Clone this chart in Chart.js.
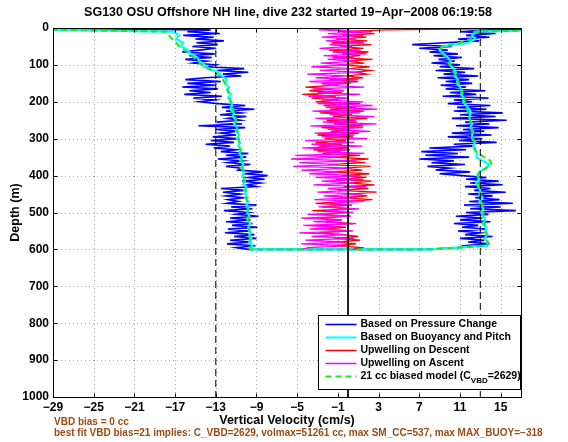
<!DOCTYPE html>
<html>
<head>
<meta charset="utf-8">
<script src="https://cdn.jsdelivr.net/npm/chart.js@4.4.1/dist/chart.umd.min.js"></script>
<style>
  html, body { margin: 0; padding: 0; background: #fff; }
  #wrap { position: relative; width: 568px; height: 442px; font-family: "Liberation Sans", Arial, sans-serif; }
  #chart { position: absolute; left: 0; top: 0; }
  .title { position: absolute; left: 0; width: 576px; top: 5px; text-align: center; font-weight: bold; font-size: 12.5px; color: #000; }
  .note { position: absolute; left: 54px; color: #9a4a14; font-weight: bold; font-size: 10px; white-space: nowrap; }
</style>
</head>
<body>
<div id="wrap">
  <canvas id="chart" width="568" height="442"></canvas>
  <div class="title">SG130 OSU Offshore NH line, dive 232 started 19−Apr−2008 06:19:58</div>
  <div class="note" style="top:416px">VBD bias = 0 cc</div>
  <div class="note" style="top:427px">best fit VBD bias=21 implies: C_VBD=2629, volmax=51261 cc, max SM_CC=537, max MAX_BUOY=−318</div>
</div>
<script>
// axis ticks
const xTicks = [-29, -25, -21, -17, -13, -9, -5, -1, 3, 7, 11, 15];
const yTicks = [0, 100, 200, 300, 400, 500, 600, 700, 800, 900, 1000];

// depth sampling (m) of the profiles below, index i -> depth i*step
const fineStep = 5;
const coarseStep = 10;

// vertical velocity (cm/s), descent, from pressure change (0..600 m, 5 m)
const blueDown = [
  -40, -13.5, -15.8, -12.6, -16.2, -13.2, -15.0, -12.2, -14.9, -12.8,
  -15.3, -13.0, -14.6, -16.3, -13.1, -15.6, -13.4, -16.0, -13.9, -15.2,
  -13.0, -13.8, -10.2, -12.9, -9.8, -12.3, -10.5, -14.1, -16.0, -12.5,
  -15.8, -13.0, -16.3, -12.8, -15.6, -13.5, -16.1, -12.4, -15.2, -13.1,
  -14.6, -12.8, -10.1, -12.4, -9.2, -12.0, -10.5, -12.6, -10.0, -11.8,
  -10.6, -12.9, -10.4, -14.7, -10.1, -13.0, -10.8, -12.5, -11.0, -13.3,
  -10.7, -13.5, -11.2, -14.0, -11.6, -13.2, -11.0, -12.5, -9.8, -12.0,
  -10.0, -12.8, -10.4, -11.8, -9.6, -12.0, -10.5, -10.8, -8.4, -10.2,
  -7.9, -9.8, -8.2, -10.4, -8.6, -10.0, -9.0, -12.5, -10.2, -12.3,
  -10.6, -12.0, -10.3, -11.8, -10.8, -11.9, -9.0, -11.5, -9.4, -12.2,
  -9.8, -11.0, -8.8, -11.6, -9.6, -12.0, -9.4, -11.4, -8.9, -11.8,
  -9.7, -12.1, -9.2, -11.2, -9.0, -11.6, -9.5, -11.9, -9.1, -11.0,
  -9.8
];
// ascent, from pressure change (0..600 m, 5 m)
const blueUp = [
  30, 13.8, 11.0, 14.5, 11.6, 13.9, 10.8, 12.9, 9.5, 6.3,
  10.2, 7.0, 9.8, 8.0, 10.8, 8.4, 11.2, 8.9, 10.5, 8.2,
  11.0, 9.0, 12.4, 8.6, 11.5, 9.4, 12.8, 8.8, 11.9, 9.6,
  12.2, 9.1, 11.6, 9.6, 13.5, 10.0, 12.6, 9.3, 13.8, 10.4,
  12.2, 9.8, 14.0, 10.7, 13.6, 10.4, 15.2, 11.0, 14.5, 10.2,
  15.6, 11.5, 13.9, 10.6, 14.8, 11.3, 13.4, 10.2, 14.1, 9.8,
  13.2, 10.9, 14.6, 10.4, 12.4, 8.0, 11.6, 7.2, 10.8, 7.6,
  11.9, 7.0, 10.4, 8.2, 11.5, 7.8, 10.0, 8.6, 12.0, 9.0,
  11.2, 13.6, 11.6, 14.8, 12.0, 15.2, 11.5, 14.0, 12.4, 15.5,
  11.8, 14.2, 12.5, 14.9, 11.9, 16.2, 11.4, 15.0, 12.0, 16.5,
  11.6, 13.8, 10.6, 13.2, 11.0, 14.0, 10.4, 12.8, 11.2, 13.6,
  10.8, 13.0, 11.5, 14.2, 11.0, 13.4, 11.8, 13.9, 11.3, 11.0,
  7.5
];

// from buoyancy and pitch (0..600 m, 10 m)
const cyanDown = [
  -40, -17.2, -16.6, -16.9, -16.2, -16.4, -15.7, -15.5, -14.8, -14.6,
  -14.1, -13.7, -12.7, -12.4, -11.9, -12.1, -11.7, -11.9, -11.5, -11.8,
  -11.5, -11.4, -11.6, -11.2, -11.3, -11.0, -11.2, -10.9, -11.0, -10.7,
  -10.9, -10.6, -10.8, -10.5, -10.7, -10.4, -10.6, -10.3, -10.5, -10.2,
  -10.4, -10.1, -10.3, -10.0, -10.2, -10.0, -10.1, -9.8, -10.0, -9.8,
  -9.9, -9.7, -9.9, -9.6, -9.8, -9.6, -9.7, -9.5, -9.7, -9.4,
  -9.6
];
const cyanUp = [
  30, 12.6, 12.2, 12.5, 11.8, 9.3, 9.0, 9.4, 9.8, 10.1,
  10.0, 10.4, 10.6, 10.5, 10.8, 10.7, 11.0, 11.2, 11.1, 11.4,
  11.3, 11.6, 11.9, 12.1, 11.9, 12.0, 12.2, 12.0, 12.3, 12.2,
  12.2, 12.5, 12.3, 12.4, 12.7, 12.6, 13.2, 13.9, 13.5, 12.9,
  12.7, 12.9, 12.6, 12.8, 13.0, 12.9, 13.2, 12.9, 13.1, 13.3,
  13.1, 13.3, 13.5, 13.2, 13.6, 13.5, 13.7, 13.4, 13.8, 13.6,
  8.0
];

// 21 cc biased model (0..600 m, 10 m)
const greenDown = [
  -40, -17.8, -17.6, -17.3, -16.9, -16.6, -16.1, -15.6, -15.2, -14.8,
  -14.4, -13.8, -13.1, -12.6, -12.3, -12.1, -11.9, -11.8, -11.7, -11.6,
  -11.5, -11.4, -11.3, -11.2, -11.1, -11.0, -10.95, -10.9, -10.85, -10.8,
  -10.75, -10.7, -10.65, -10.6, -10.55, -10.5, -10.45, -10.4, -10.35, -10.3,
  -10.25, -10.2, -10.15, -10.1, -10.05, -10.0, -9.98, -9.95, -9.9, -9.88,
  -9.85, -9.82, -9.8, -9.78, -9.75, -9.72, -9.7, -9.68, -9.65, -9.62,
  -9.6
];
const greenUp = [
  30, 12.4, 12.3, 12.0, 11.0, 9.2, 9.1, 9.3, 9.6, 9.8,
  10.0, 10.2, 10.4, 10.6, 10.7, 10.9, 11.0, 11.2, 11.3, 11.4,
  11.5, 11.6, 11.7, 11.8, 11.9, 12.0, 12.1, 12.1, 12.2, 12.3,
  12.3, 12.4, 12.4, 12.5, 12.8, 13.4, 14.0, 14.1, 13.6, 12.9,
  12.8, 12.8, 12.9, 12.9, 13.0, 13.0, 13.1, 13.1, 13.2, 13.2,
  13.3, 13.3, 13.4, 13.4, 13.5, 13.5, 13.6, 13.6, 13.7, 13.7,
  8.0
];

// upwelling on descent (0..600 m, 5 m)
const redDown = [
  20, 3.8, -1.0, 2.6, -0.5, 1.8, -1.2, 1.9, -1.6, 2.3,
  -0.8, 1.5, -1.9, 2.0, -0.6, 1.2, -1.5, 2.4, -0.4, 1.6,
  -1.0, 2.1, 0.3, 2.2, 0.6, 1.9, -0.2, 1.5, -1.8, 1.0,
  -2.6, -1.0, -4.2, -1.5, -3.8, -0.6, -4.5, -1.2, -3.6, -0.9,
  -3.2, 1.2, -2.4, 0.8, -1.8, 1.6, -2.8, 0.4, -1.5, 1.9,
  -2.1, 0.9, -1.4, 1.5, -2.6, 0.2, -1.7, 1.1, -3.0, 0.5,
  -2.3, -0.2, -3.2, -0.6, -2.9, 0.1, -3.4, -0.8, -2.5, 1.2,
  -1.6, 2.0, -0.8, 1.7, -2.0, 2.2, -0.4, 1.4, -1.8, 2.1,
  -0.6, 1.8, -1.2, 2.3, 0.1, 2.6, -0.4, 2.0, -1.0, 2.8,
  0.2, 1.9, -0.8, 2.4, -0.3, -3.2, 0.4, -2.5, 0.6, -3.5,
  -0.4, -2.8, 0.2, -3.0, -0.6, -2.2, 0.5, -3.3, -0.2, -2.6,
  0.3, -2.9, -0.5, 1.0, -1.3, 1.2, -1.0, 0.8, -1.5, 1.3,
  0.5
];

// upwelling on ascent (0..600 m, 5 m)
const magentaUp = [
  1.0, -2.9, 2.4, -2.0, 1.5, -2.6, 0.8, -2.2, 1.6, -1.8,
  0.4, -2.8, 1.2, -1.5, 1.8, -2.4, 0.6, -2.0, 1.0, -2.7,
  0.2, -3.6, 0.5, -2.8, 1.4, -4.0, -0.2, -3.2, 1.0, -3.8,
  0.3, -2.5, 1.6, -3.5, -0.4, -3.0, 1.2, -3.9, 0.1, -2.6,
  1.5, -3.0, 2.4, -2.2, 2.9, -3.5, 1.2, -1.8, 2.6, -3.2,
  0.8, -2.5, 2.8, -3.7, 1.5, -2.0, 2.2, -3.3, 0.6, -2.6,
  1.9, -4.2, 0.6, -3.6, 1.4, -4.5, 0.2, -3.0, 1.6, -5.2,
  -0.5, -5.6, 0.8, -4.8, -1.0, -5.4, 0.4, -4.6, -0.8, -3.8,
  1.2, -3.2, 1.5, -2.6, 0.6, -3.4, 1.8, -2.0, 0.2, -3.0,
  1.3, -2.4, 0.8, -3.3, 1.6, -1.8, 0.4, -2.9, 1.1, -2.2,
  0.5, -4.0, 0.3, -4.6, -0.6, -3.4, 0.8, -4.4, -0.8, -3.8,
  0.5, -4.8, -0.2, -3.6, 0.6, -4.2, -0.4, -4.6, 0.2, -3.9,
  -4.5
];

// reference velocities drawn as full-depth vertical lines
const limitLines = [-13, 13];
const zeroLine = [0];

const FONT = '"Liberation Sans", Arial, sans-serif';

function profile(vals, step) {
    return vals.map((v, i) => ({ x: v, y: i * step }));
}

// descent then ascent, in time order
function dive(down, up, step) {
    return profile(down, step).concat(profile(up, step).reverse());
}

function vline(x) {
    return [{ x: x, y: 0 }, { x: x, y: 1000 }];
}

const lineBase = { showLine: true, pointRadius: 0, borderJoinStyle: 'miter', fill: false, tension: 0 };

const datasets = [
    { ...lineBase, label: 'Based on Pressure Change', data: dive(blueDown, blueUp, fineStep),
      borderColor: '#0000ff', borderWidth: 1.6, order: 8 },
    { ...lineBase, label: 'Based on Buoyancy and Pitch', data: dive(cyanDown, cyanUp, coarseStep),
      borderColor: '#00ffff', borderWidth: 2.2, order: 7 },
    { ...lineBase, label: 'Upwelling on Descent', data: profile(redDown, fineStep),
      borderColor: '#ff0000', borderWidth: 1.3, order: 6 },
    { ...lineBase, label: 'Upwelling on Ascent', data: profile(magentaUp, fineStep).reverse(),
      borderColor: '#ff00ff', borderWidth: 1.3, order: 5 },
    { ...lineBase, label: '21 cc biased model (C_{VBD}=2629)', data: dive(greenDown, greenUp, coarseStep),
      borderColor: '#22e622', borderWidth: 2, borderDash: [6, 4], order: 4 }
];
limitLines.forEach(v => datasets.push({ ...lineBase, data: vline(v), borderColor: '#000', borderWidth: 1, borderDash: [7, 4], order: 2 }));
zeroLine.forEach(v => datasets.push({ ...lineBase, data: vline(v), borderColor: '#000', borderWidth: 1, order: 1 }));

// MATLAB-ish frame: dotted grid, box, inward ticks, legend inside the axes
const matlabAxes = {
    id: 'matlabAxes',
    beforeDatasetsDraw(chart) {
        const { ctx, chartArea: a, scales: { x, y } } = chart;
        ctx.save();
        ctx.strokeStyle = '#a8a8a8';
        ctx.lineWidth = 1;
        ctx.setLineDash([1, 3]);
        xTicks.forEach(v => {
            const px = Math.round(x.getPixelForValue(v)) + 0.5;
            ctx.beginPath(); ctx.moveTo(px, a.top); ctx.lineTo(px, a.bottom); ctx.stroke();
        });
        yTicks.forEach(v => {
            const py = Math.round(y.getPixelForValue(v)) + 0.5;
            ctx.beginPath(); ctx.moveTo(a.left, py); ctx.lineTo(a.right, py); ctx.stroke();
        });
        ctx.restore();
    },
    afterDatasetsDraw(chart) {
        const { ctx, chartArea: a, scales: { x, y } } = chart;
        ctx.save();
        ctx.strokeStyle = '#000';
        ctx.lineWidth = 1;
        ctx.setLineDash([]);
        const L = Math.round(a.left) + 0.5, R = Math.round(a.right) + 0.5;
        const T = Math.round(a.top) + 0.5, B = Math.round(a.bottom) + 0.5;
        ctx.strokeRect(L, T, R - L, B - T);
        const tk = 4;
        ctx.beginPath();
        xTicks.forEach(v => {
            const px = Math.round(x.getPixelForValue(v)) + 0.5;
            ctx.moveTo(px, B); ctx.lineTo(px, B - tk);
            ctx.moveTo(px, T); ctx.lineTo(px, T + tk);
        });
        yTicks.forEach(v => {
            const py = Math.round(y.getPixelForValue(v)) + 0.5;
            ctx.moveTo(L, py); ctx.lineTo(L + tk, py);
            ctx.moveTo(R, py); ctx.lineTo(R - tk, py);
        });
        ctx.stroke();

        // legend
        const items = chart.data.datasets.filter(d => d.label);
        const bx = 318.5, by = 315.5, bw = 202, bh = 74;
        ctx.fillStyle = '#fff';
        ctx.fillRect(bx, by, bw, bh);
        ctx.strokeStyle = '#000';
        ctx.strokeRect(bx, by, bw, bh);
        const fs = 10.5;
        ctx.textBaseline = 'middle';
        items.forEach((d, i) => {
            const ly = by + 9 + i * 13;
            ctx.strokeStyle = d.borderColor;
            ctx.lineWidth = Math.max(1.5, Math.min(2, d.borderWidth));
            ctx.setLineDash(d.borderDash || []);
            ctx.beginPath(); ctx.moveTo(bx + 7, ly); ctx.lineTo(bx + 38, ly); ctx.stroke();
            ctx.setLineDash([]);
            ctx.fillStyle = '#000';
            let tx = bx + 42;
            const parts = d.label.split(/_\{(.+?)\}/);
            parts.forEach((p, j) => {
                const sub = j % 2 === 1;
                ctx.font = 'bold ' + (sub ? 8 : fs) + 'px ' + FONT;
                ctx.fillText(p, tx, sub ? ly + 4 : ly);
                tx += ctx.measureText(p).width;
            });
        });
        ctx.restore();
    }
};

const tickFont = { family: FONT, size: 12, weight: 'bold' };
const titleFont = { family: FONT, size: 12.5, weight: 'bold' };

new Chart(document.getElementById('chart'), {
    type: 'scatter',
    data: { datasets: datasets },
    options: {
        responsive: false,
        animation: false,
        events: [],
        layout: { padding: { left: 0, top: 28, right: 47, bottom: 0 } },
        plugins: { legend: { display: false }, tooltip: { enabled: false } },
        scales: {
            x: {
                type: 'linear', min: -29, max: 17,
                afterBuildTicks: s => { s.ticks = xTicks.map(v => ({ value: v })); },
                afterFit: s => { s.height = 45; },
                grid: { display: false, drawTicks: false },
                border: { display: false },
                ticks: { color: '#000', font: tickFont, padding: 3, autoSkip: false, maxRotation: 0,
                         callback: v => String(v).replace('-', '\u2212') },
                title: { display: true, text: 'Vertical Velocity (cm/s)', color: '#000',
                         font: titleFont, padding: { top: 0, bottom: 14 } }
            },
            y: {
                type: 'linear', reverse: true, min: 0, max: 1000,
                afterBuildTicks: s => { s.ticks = yTicks.map(v => ({ value: v })); },
                afterFit: s => { s.width = 53; },
                grid: { display: false, drawTicks: false },
                border: { display: false },
                ticks: { color: '#000', font: tickFont, padding: 4, autoSkip: false,
                         callback: v => String(v) },
                title: { display: true, text: 'Depth (m)', color: '#000',
                         font: titleFont, padding: { top: 8, bottom: 0 } }
            }
        }
    },
    plugins: [matlabAxes]
});
</script>
</body>
</html>
